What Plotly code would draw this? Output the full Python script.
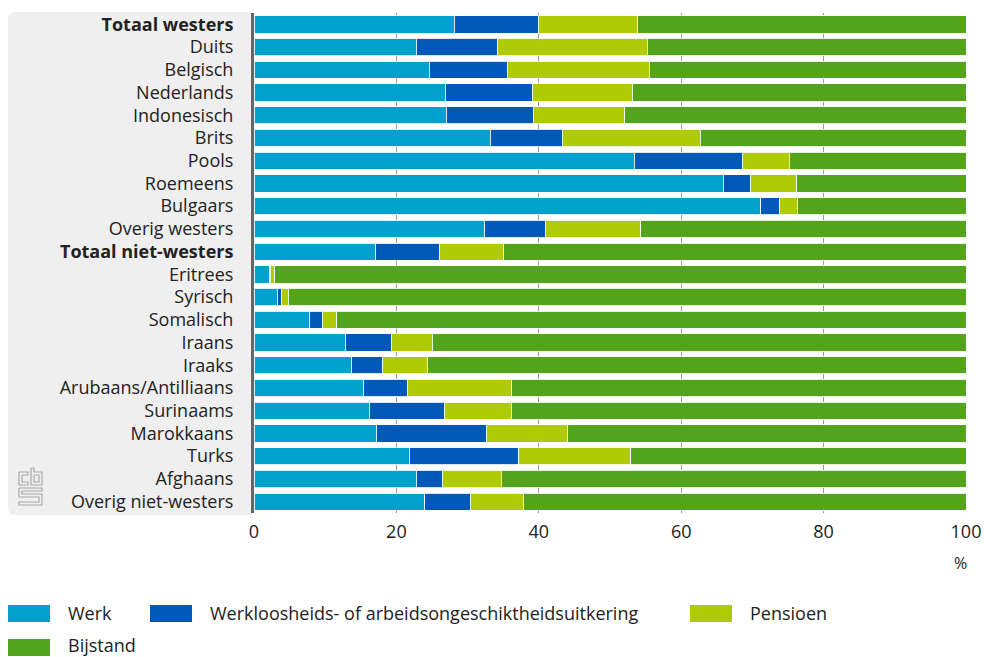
import plotly.graph_objects as go

categories = ["Totaal westers", "Duits", "Belgisch", "Nederlands", "Indonesisch", "Brits",
              "Pools", "Roemeens", "Bulgaars", "Overig westers", "Totaal niet-westers",
              "Eritrees", "Syrisch", "Somalisch", "Iraans", "Iraaks", "Arubaans/Antilliaans",
              "Surinaams", "Marokkaans", "Turks", "Afghaans", "Overig niet-westers"]
bold_categories = ["Totaal westers", "Totaal niet-westers"]

werk = [28.1, 22.8, 24.6, 26.9, 27.0, 33.2, 53.4, 65.9, 71.2, 32.4, 17.1,
        2.2, 3.3, 7.8, 12.9, 13.7, 15.4, 16.2, 17.2, 21.9, 22.8, 24.0]
werkloos = [11.8, 11.4, 11.0, 12.2, 12.2, 10.1, 15.2, 3.8, 2.6, 8.6, 8.9,
            0.1, 0.5, 1.8, 6.4, 4.4, 6.2, 10.5, 15.4, 15.3, 3.7, 6.4]
pensioen = [14.0, 21.0, 19.9, 14.0, 12.9, 19.4, 6.6, 6.5, 2.6, 13.3, 9.1,
            0.6, 1.0, 2.0, 5.7, 6.3, 14.6, 9.4, 11.5, 15.7, 8.2, 7.5]
bijstand = [46.1, 44.8, 44.5, 46.9, 47.9, 37.3, 24.8, 23.8, 23.6, 45.7, 64.9,
            97.1, 95.2, 88.4, 75.0, 75.6, 63.8, 63.9, 55.9, 47.1, 65.3, 62.1]

series_names = ["Werk", "Werkloosheids- of arbeidsongeschiktheidsuitkering", "Pensioen", "Bijstand"]
series_values = [werk, werkloos, pensioen, bijstand]
series_colors = ["#00a1cd", "#0058b8", "#afcb05", "#53a31d"]

x_ticks = [0, 20, 40, 60, 80, 100]
x_unit = "%"

W, H = 984, 657
L, R, T, B = 254, 966, 13, 513
FONT = "Open Sans"
FS = 18


def px(x):
    return (x - L) / (R - L)


def py(y):
    return (B - y) / (B - T)


fig = go.Figure()
for name, vals, col in zip(series_names, series_values, series_colors):
    fig.add_trace(go.Bar(
        y=categories, x=vals, name=name, orientation="h",
        marker=dict(color=col, line=dict(color="rgba(255,255,255,0.85)", width=1)),
        hovertemplate="%{y}: %{x}%<extra>" + name + "</extra>",
        showlegend=False,
    ))

ticktext = [f"<b>{c}</b>" if c in bold_categories else c for c in categories]

shapes = []
# grey label panel
x0, x1, y0, y1, r = px(8), px(252), py(12), py(515), 8
rx, ry = r / (R - L), r / (B - T)
shapes.append(dict(
    type="path", xref="paper", yref="paper", layer="below",
    path=(f"M {x0+rx},{y0} L {x1},{y0} L {x1},{y1} L {x0+rx},{y1} "
          f"Q {x0},{y1} {x0},{y1+ry} L {x0},{y0-ry} Q {x0},{y0} {x0+rx},{y0} Z"),
    fillcolor="#efefef", line=dict(width=0)))

# cbs logo (approximate line art)
logo = [
    [(19, 472), (28, 472), (28, 475), (22, 475), (22, 482), (28, 482), (28, 485), (19, 485), (19, 472)],
    [(31, 468), (34, 468), (34, 472), (42, 472), (42, 485), (31, 485), (31, 468)],
    [(34, 475), (39, 475), (39, 482), (34, 482), (34, 475)],
    [(19, 488), (42, 488), (42, 491), (22, 491), (22, 494), (42, 494), (42, 505), (19, 505),
     (19, 502), (39, 502), (39, 497), (19, 497), (19, 488)],
]
for poly in logo:
    path = "M " + " L ".join(f"{px(a)},{py(b)}" for a, b in poly)
    shapes.append(dict(type="path", xref="paper", yref="paper", path=path,
                       line=dict(color="#a8a8a8", width=1.2)))

annotations = [dict(text=x_unit, xref="paper", yref="paper", x=px(960), y=py(563),
                    xanchor="center", yanchor="middle",
                    showarrow=False, font=dict(family=FONT, size=16, color="#222"))]

# legend (manual)
leg_items = [(8, 605, 66, 613), (150, 605, 208, 613), (690, 605, 748, 613), (8, 639, 66, 645)]
for (sx, sy, tx, ty), name, col in zip(leg_items, series_names, series_colors):
    shapes.append(dict(type="rect", xref="paper", yref="paper",
                       x0=px(sx), x1=px(sx + 42), y0=py(sy), y1=py(sy + 17),
                       fillcolor=col, line=dict(width=0)))
    annotations.append(dict(text=name, xref="paper", yref="paper", x=px(tx), y=py(ty),
                            xanchor="left", yanchor="middle", showarrow=False,
                            font=dict(family=FONT, size=FS, color="#222")))

fig.update_layout(
    width=W, height=H,
    margin=dict(l=L, r=W - R, t=T, b=H - B, autoexpand=False),
    barmode="stack", bargap=0.24,
    plot_bgcolor="white", paper_bgcolor="white",
    font=dict(family=FONT, size=FS, color="#222"),
    xaxis=dict(range=[0, 100], tickvals=x_ticks, showgrid=True, gridcolor="#9a9a9a",
               gridwidth=1, zeroline=False, showline=False, ticks="", automargin=False,
               tickfont=dict(family=FONT, size=FS, color="#222"), ticklabelstandoff=6),
    yaxis=dict(tickvals=categories, ticktext=ticktext, autorange="reversed", automargin=False,
               showline=True, linecolor="#666", linewidth=3, ticks="", showgrid=False,
               tickfont=dict(family=FONT, size=FS, color="#222"), ticklabelstandoff=14),
    shapes=shapes, annotations=annotations,
)

fig.write_html("out.html", config={"displayModeBar": False},
               post_script="document.body.style.margin='0px';document.body.style.overflow='hidden';")
